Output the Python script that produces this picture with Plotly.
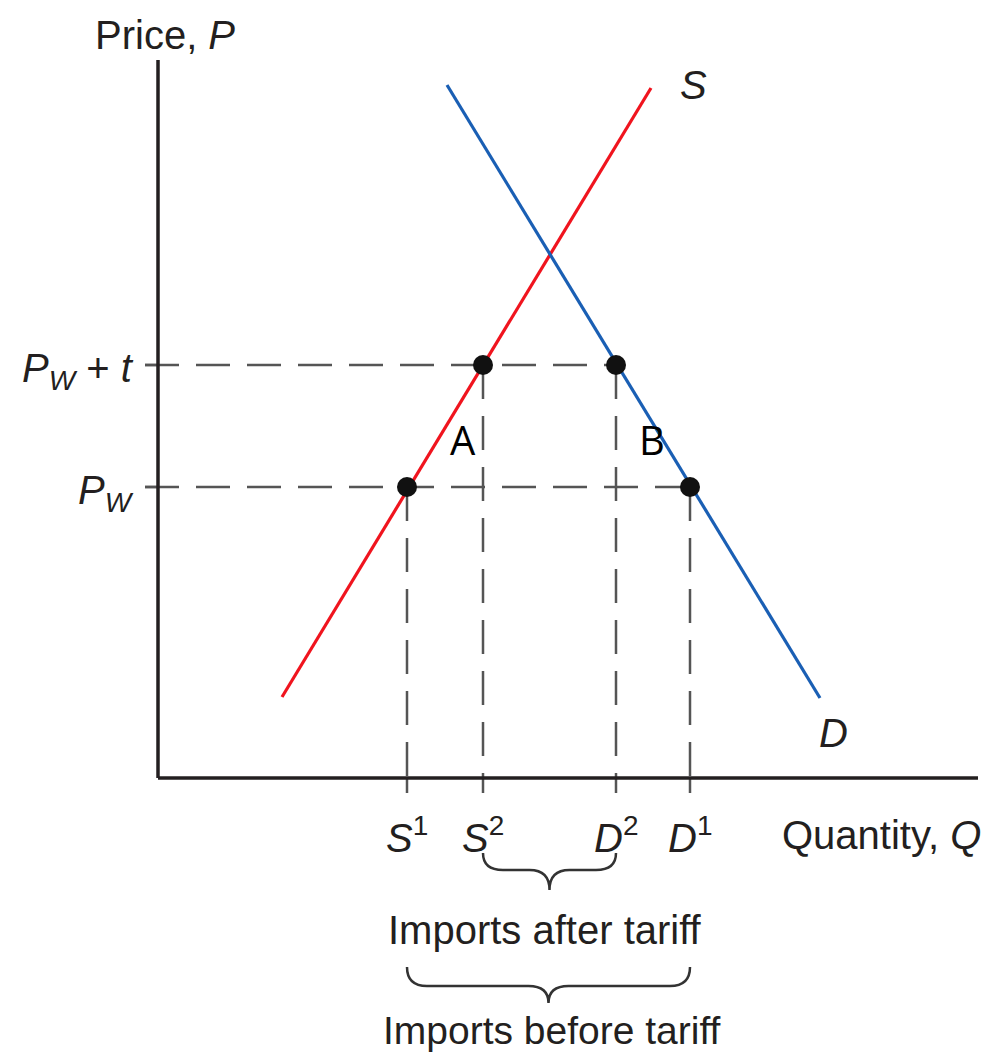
import plotly.graph_objects as go

# ---- data (quantity / price units) ----
supply_q = [12.4, 49.3]
supply_p = [8.1, 69.0]
demand_q = [28.9, 66.2]
demand_p = [69.3, 8.0]
p_world = 29.1
p_tariff = 41.3
q_s1 = 24.9
q_s2 = 32.5
q_d2 = 45.8
q_d1 = 53.2
q_max = 82.0
p_max = 71.8
tick_labels = ["<i>S</i><sup>1</sup>", "<i>S</i><sup>2</sup>", "<i>D</i><sup>2</sup>", "<i>D</i><sup>1</sup>"]
tick_q = [q_s1, q_s2, q_d2, q_d1]

TXT = "#231f20"
DASH = "#555555"
FONT = "Liberation Sans, Arial, sans-serif"

fig = go.Figure()

def seg(xs, ys, color, width, dash=None):
    fig.add_trace(go.Scatter(x=xs, y=ys, mode="lines", hoverinfo="skip",
                             line=dict(color=color, width=width, dash=dash), showlegend=False))

# dashed guide lines
dpat = "34px,17px"
seg([-1.3, q_d2], [p_tariff, p_tariff], DASH, 2.5, dpat)
seg([-1.3, q_d1], [p_world, p_world], DASH, 2.5, dpat)
for q, p in [(q_s1, p_world), (q_s2, p_tariff), (q_d2, p_tariff), (q_d1, p_world)]:
    seg([q, q], [p, 0], DASH, 2.5, dpat)
    seg([q, q], [0, -1.5], DASH, 2.5)
for p in [p_world, p_tariff]:
    seg([-1.3, 0], [p, p], DASH, 2.5)

# axes
seg([0, 0], [p_max, 0], TXT, 3.5)
seg([0, q_max], [0, 0], TXT, 3.5)

# supply & demand
seg(supply_q, supply_p, "#f0141e", 3.2)
seg(demand_q, demand_p, "#1a5fb4", 3.2)

# equilibrium points
fig.add_trace(go.Scatter(x=[q_s1, q_s2, q_d2, q_d1], y=[p_world, p_tariff, p_tariff, p_world],
                         mode="markers", marker=dict(color="#111111", size=20),
                         hoverinfo="skip", showlegend=False))

def ann(x, y, text, size=40, xanchor="center", yanchor="middle", font=FONT, color=TXT, yshift=0):
    fig.add_annotation(x=x, y=y, xref="x", yref="y", text=text, showarrow=False,
                       xanchor=xanchor, yanchor=yanchor, yshift=yshift,
                       font=dict(family=font, size=size, color=color))

ann(0.7, 74.3, "Price, <i>P</i>")
ann(82.5, -5.7, "Quantity, <i>Q</i>", xanchor="right")
ann(52.0, 69.3, "<i>S</i>", xanchor="left")
ann(67.5, 4.5, "<i>D</i>")
ann(-2.2, p_tariff, "<i>P</i><sub><i>W</i></sub> + <i>t</i>", xanchor="right", yshift=-6)
ann(-2.2, p_world, "<i>P</i><sub><i>W</i></sub>", xanchor="right", yshift=-6)
for q, t in zip(tick_q, tick_labels):
    ann(q, -5.7, t)
ann(30.5, 33.9, "A", size=40, font="Open Sans, Noto Sans, sans-serif", color="#000000")
ann(49.4, 33.9, "B", size=40, font="Open Sans, Noto Sans, sans-serif", color="#000000")
ann((q_s2 + q_d2) / 2 - 0.5, -15.2, "Imports after tariff")
ann((q_s1 + q_d1) / 2 + 0.3, -25.2, "Imports before tariff", size=39)

def brace(x0, x1, ytop, yline, ypt, r=2.0):
    xm = (x0 + x1) / 2
    return (f"M {x0},{ytop} Q {x0},{yline} {x0+r},{yline} L {xm-r},{yline} "
            f"Q {xm},{yline} {xm},{ypt} Q {xm},{yline} {xm+r},{yline} "
            f"L {x1-r},{yline} Q {x1},{yline} {x1},{ytop}")

fig.add_shape(type="path", xref="x", yref="y", path=brace(q_s2, q_d2, -7.5, -9.2, -11.2),
              line=dict(color="#333333", width=2.5))
fig.add_shape(type="path", xref="x", yref="y", path=brace(q_s1, q_d1, -18.9, -20.8, -22.5),
              line=dict(color="#333333", width=2.5))

# page body has an 8px margin; shrink figure and shift ranges accordingly
fig.update_layout(width=978, height=1046, margin=dict(l=0, r=0, t=0, b=0),
                  paper_bgcolor="white", plot_bgcolor="white",
                  xaxis=dict(range=[-15.0, 82.8], visible=False, fixedrange=True),
                  yaxis=dict(range=[-27.6, 77.0], visible=False, fixedrange=True))

fig.write_html("out.html")
